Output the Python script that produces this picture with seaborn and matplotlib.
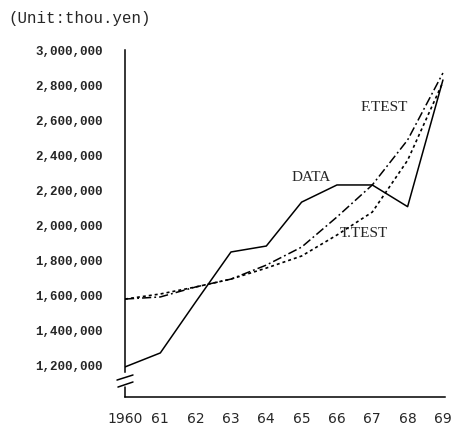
import matplotlib
matplotlib.use("Agg")
import matplotlib.pyplot as plt
import matplotlib.transforms as mtransforms
import seaborn as sns
import pandas as pd

# ---------------------------------------------------------------
# data (thousand yen)
# ---------------------------------------------------------------
years   = [1960, 1961, 1962, 1963, 1964, 1965, 1966, 1967, 1968, 1969]
data    = [1189000, 1269000, 1560000, 1846000, 1880000, 2131000, 2229000, 2229000, 2105000, 2829000]
f_test  = [1577000, 1589000, 1646000, 1691000, 1771000, 1874000, 2046000, 2229000, 2486000, 2869000]
t_test  = [1577000, 1606000, 1646000, 1691000, 1754000, 1823000, 1943000, 2074000, 2370000, 2817000]
x_labels = ["1960", "61", "62", "63", "64", "65", "66", "67", "68", "69"]
y_ticks  = [1200000, 1400000, 1600000, 1800000, 2000000, 2200000, 2400000, 2600000, 2800000, 3000000]

df = pd.DataFrame({"year": years, "DATA": data, "F.TEST": f_test, "T.TEST": t_test})

sns.set_style("white")
plt.rcParams["font.family"] = ["DejaVu Sans"]

fig = plt.figure(figsize=(4.54, 4.26), dpi=100)
ax = fig.add_axes([0.2753, 0.068, 0.705, 0.819])

sns.lineplot(data=df, x="year", y="DATA", color="black", lw=1.1, ax=ax)
sns.lineplot(data=df, x="year", y="F.TEST", color="black", lw=1.1,
             linestyle=(0, (6, 2, 1.2, 2)), ax=ax)
sns.lineplot(data=df, x="year", y="T.TEST", color="black", lw=1.2,
             linestyle=(0, (1.8, 1.8)), ax=ax)

ax.set_xlim(1960, 1969.06)
ax.set_ylim(1017000, 3011000)
ax.set_xlabel("")
ax.set_ylabel("")

ax.set_xticks(years)
ax.set_xticklabels(x_labels, fontsize=10, family="DejaVu Sans")
ax.set_yticks(y_ticks)
ax.set_yticklabels([f"{v:,}" for v in y_ticks], fontsize=9, family="Liberation Mono",
                   fontweight="bold")
ax.tick_params(axis="y", direction="out", length=3, width=0.8, pad=13, color="black")
ax.tick_params(axis="x", direction="in", length=2, width=0.8, pad=11, color="black")

for s in ["top", "right"]:
    ax.spines[s].set_visible(False)
for s in ["left", "bottom"]:
    ax.spines[s].set_color("black")
    ax.spines[s].set_linewidth(1.1)

# broken y axis
ax.spines["left"].set_bounds(1160000, 3000000)
trans = mtransforms.blended_transform_factory(ax.transAxes, ax.transData)
ax.plot([0, 0], [1017000, 1074000], color="black", lw=1.1, transform=trans, clip_on=False)
ax.plot([-0.025, 0.025], [1114000, 1143000], color="black", lw=1.1, transform=trans, clip_on=False)
ax.plot([-0.022, 0.025], [1074000, 1103000], color="black", lw=1.1, transform=trans, clip_on=False)

# labels on the lines
ax.text(1965.26, 2269000, "DATA", fontsize=11, family="Liberation Serif", ha="center", va="center")
ax.text(1967.33, 2674000, "F.TEST", fontsize=11, family="Liberation Serif", ha="center", va="center")
ax.text(1966.76, 1954000, "T.TEST", fontsize=11, family="Liberation Serif", ha="center", va="center")

fig.text(8 / 454, 1 - 18 / 426, "(Unit:thou.yen)", fontsize=11.3, family="Liberation Mono",
         ha="left", va="center")

fig.savefig("out.png", dpi=100)
